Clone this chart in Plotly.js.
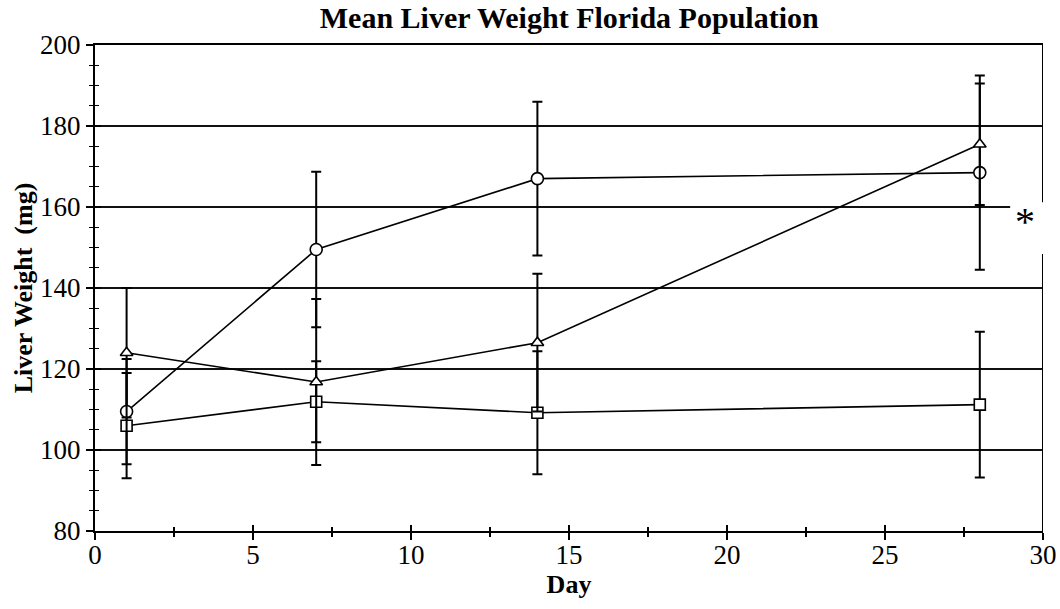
<!DOCTYPE html>
<html>
<head>
<meta charset="utf-8">
<script src="https://cdn.plot.ly/plotly-3.0.1.min.js"></script>
<style>html,body{margin:0;padding:0;background:#fff;}#chart{width:1060px;height:609px;}</style>
</head>
<body>
<div id="chart"></div>
<script>
const days = [1, 7, 14, 28];
const circleMean = [109.5, 149.5, 167.0, 168.5];
const circleErr = [13.0, 19.2, 19.0, 24.0];
const triangleMean = [124.0, 116.8, 126.5, 175.5];
const triangleErr = [16.0, 20.5, 17.0, 15.0];
const squareMean = [106.0, 111.9, 109.2, 111.2];
const squareErr = [13.0, 10.0, 15.2, 18.0];
const xTickVals = [0, 5, 10, 15, 20, 25, 30];
const yTickVals = [80, 100, 120, 140, 160, 180, 200];

const FONT = '"Liberation Serif", "Times New Roman", serif';

function series(y, err, symbol, size) {
  return {
    x: days, y: y, type: 'scatter', mode: 'lines+markers',
    line: {color: '#000', width: 1.6},
    marker: {symbol: symbol, size: size, color: '#fff', line: {color: '#000', width: 1.6}},
    error_y: {type: 'data', array: err, visible: true, color: '#000', thickness: 2, width: 5},
    showlegend: false, hoverinfo: 'x+y'
  };
}

const traces = [
  series(squareMean, squareErr, 'square', 11),
  series(circleMean, circleErr, 'circle', 12),
  series(triangleMean, triangleErr, 'triangle-up', 11)
];

const layout = {
  width: 1060, height: 609,
  margin: {l: 95, r: 17, t: 45, b: 78},
  paper_bgcolor: '#fff', plot_bgcolor: '#fff',
  font: {family: FONT, color: '#000', size: 27},
  title: {text: '<b>Mean Liver Weight Florida Population</b>', x: 0.537, xanchor: 'center', y: 0.972, yanchor: 'middle', font: {family: FONT, size: 30, color: '#000'}},
  xaxis: {
    range: [0, 30], tickvals: xTickVals, ticktext: xTickVals.map(String),
    showgrid: false, zeroline: false, showline: true, linecolor: '#000', linewidth: 2, mirror: true,
    ticks: 'outside', ticklen: 7, tickwidth: 1.5, tickcolor: '#000', ticklabelstandoff: -8,
    minor: {dtick: 2.5, ticks: 'outside', ticklen: 4, tickwidth: 1.2, tickcolor: '#000'},
    tickfont: {family: FONT, size: 27, color: '#000'},
    title: {text: '<b>Day</b>', font: {family: FONT, size: 26, color: '#000'}, standoff: 0}
  },
  yaxis: {
    range: [80, 200], tickvals: yTickVals, ticktext: yTickVals.map(String),
    showgrid: true, gridcolor: '#111', gridwidth: 1.3, zeroline: false,
    showline: true, linecolor: '#000', linewidth: 2,
    ticks: 'outside', ticklen: 7, tickwidth: 1.5, tickcolor: '#000',
    minor: {dtick: 5, ticks: 'outside', ticklen: 4, tickwidth: 1.2, tickcolor: '#000', showgrid: false},
    tickfont: {family: FONT, size: 27, color: '#000'},
    title: {text: '<b>Liver Weight  (mg)</b>', font: {family: FONT, size: 26, color: '#000'}, standoff: 0}
  },
  xaxis2: {
    overlaying: 'x', matches: 'x', range: [0, 30], side: 'bottom', anchor: 'y',
    tickvals: xTickVals, showticklabels: false, showgrid: false, zeroline: false, showline: false,
    ticks: 'inside', ticklen: 6, tickwidth: 1.5, tickcolor: '#000',
    minor: {dtick: 2.5, ticks: 'inside', ticklen: 4, tickwidth: 1.2, tickcolor: '#000'}
  },
  yaxis2: {
    overlaying: 'y', matches: 'y', range: [80, 200], side: 'left', anchor: 'x',
    tickvals: yTickVals, showticklabels: false, showgrid: false, zeroline: false, showline: false,
    ticks: 'inside', ticklen: 6, tickwidth: 1.5, tickcolor: '#000',
    minor: {dtick: 5, ticks: 'inside', ticklen: 4, tickwidth: 1.2, tickcolor: '#000'}
  },
  shapes: [
    {type: 'rect', xref: 'x', yref: 'y', x0: 28.96, x1: 30, y0: 158.8, y1: 161.2, fillcolor: '#fff', line: {width: 0}, layer: 'above'},
    {type: 'line', xref: 'x', yref: 'y', x0: 30, x1: 30, y0: 80, y1: 148.4, line: {color: '#000', width: 2}, layer: 'above'},
    {type: 'line', xref: 'x', yref: 'y', x0: 30, x1: 30, y0: 161.2, y1: 200, line: {color: '#000', width: 2}, layer: 'above'}
  ],
  annotations: [
    {xref: 'x', yref: 'y', x: 29.42, y: 155.5, text: '*', showarrow: false, xanchor: 'center', yanchor: 'middle', yshift: 4,
     font: {family: FONT, size: 40, color: '#000'}}
  ]
};

traces.push({x: [], y: [], xaxis: 'x2', yaxis: 'y2', type: 'scatter', mode: 'markers', showlegend: false, hoverinfo: 'skip'});

Plotly.newPlot('chart', traces, layout, {displayModeBar: false, staticPlot: true});
</script>
</body>
</html>
